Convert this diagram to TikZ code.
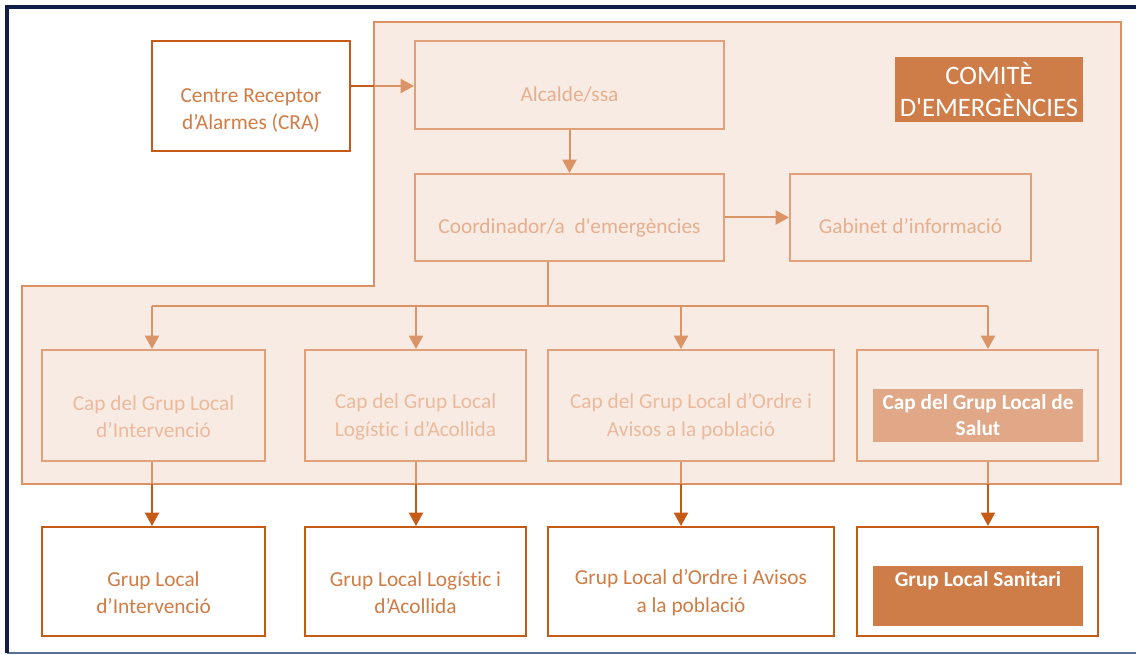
\documentclass[tikz,border=0pt]{standalone}
\usepackage{fontspec}
\setmainfont{Carlito}[Ligatures=NoCommon]
\usetikzlibrary{arrows.meta,calc}
\definecolor{navy}{HTML}{0F1F4A}
\definecolor{framebot}{HTML}{5B6F92}
\definecolor{commfill}{HTML}{F8EBE3}
\definecolor{commline}{HTML}{DA9163}
\definecolor{lline}{HTML}{E0A07A}
\definecolor{larrow}{HTML}{DA9466}
\definecolor{ltext}{HTML}{E6AF8E}
\definecolor{captext}{HTML}{EBBA9C}
\definecolor{dline}{HTML}{C65A17}
\definecolor{dtext}{HTML}{D07C45}
\definecolor{comfill}{HTML}{CF7D48}
\definecolor{salutfill}{HTML}{E0A886}
\begin{document}
\begin{tikzpicture}[x=0.75pt,y=-0.75pt,
  lbox/.style={draw=lline,line width=1.5pt,fill=commfill,inner sep=0pt},
  dbox/.style={draw=dline,line width=1.5pt,fill=white,inner sep=0pt},
  txt/.style={align=center,font=\fontsize{16}{20.5}\selectfont,inner sep=0pt},
  lt/.style={txt,text=ltext},
  ct/.style={txt,text=captext},
  dt/.style={txt,text=dtext},
  larr/.style={draw=larrow,line width=1.5pt,-{Triangle[length=10pt,width=10.5pt]}},
  lln/.style={draw=larrow,line width=1.5pt},
  darr/.style={draw=dline,line width=1.5pt,-{Triangle[length=10pt,width=10.5pt]}},
  dln/.style={draw=dline,line width=1.5pt},
  capw/.style={minimum height=83.25pt},
  grpw/.style={minimum height=81.75pt}]
\useasboundingbox (0,0) rectangle (1136,655);
% frame
\draw[framebot,line width=1.2pt] (7,653) -- (1136,653);
\draw[navy,line width=3pt] (7,653) -- (7,7) -- (1136,7);
% committee area
\draw[commline,fill=commfill,line width=1.5pt] (374,22) -- (1121,22) -- (1121,484) -- (22,484) -- (22,286) -- (374,286) -- cycle;
% top boxes
\node[dbox,minimum width=148.5pt,minimum height=82.5pt] (cra) at (251,96) {};
\node[dt] (crat) at ([yshift=-11pt]cra.center) {Centre Receptor\\d’Alarmes (CRA)};
\node[lbox,minimum width=231.75pt,minimum height=66pt] (alc) at (569.5,85) {};
\node[lt] (alct) at ([yshift=-7.5pt]alc.center) {Alcalde/ssa};
\node[fill=comfill,minimum width=141pt,minimum height=48.75pt,inner sep=0pt] (com) at (989,89.5) {};
\node[txt,text=white,font=\fontsize{20}{24}\selectfont] (comt) at (com.center) {COMITÈ\\D\textquotesingle EMERGÈNCIES};
\node[lbox,minimum width=231.75pt,minimum height=65.25pt] (coo) at (569.5,217.5) {};
\node[lt] (coot) at ([yshift=-8pt]coo.center) {Coordinador/a\ \ d\textquotesingle emergències};
\node[lbox,minimum width=180.75pt,minimum height=65.25pt] (gab) at (910.5,217.5) {};
\node[lt] (gabt) at ([yshift=-6.5pt]gab.center) {Gabinet d’informació};
% cap boxes
\node[lbox,capw,minimum width=167.25pt] (cap1) at (153.5,405.5) {};
\node[lbox,capw,minimum width=165.75pt] (cap2) at (415.5,405.5) {};
\node[lbox,capw,minimum width=214.5pt] (cap3) at (691,405.5) {};
\node[lbox,capw,minimum width=180.75pt] (cap4) at (977.5,405.5) {};
\node[ct] (cap1t) at ([yshift=-8.5pt]cap1.center) {Cap del Grup Local\\d’Intervenció};
\node[ct] (cap2t) at ([yshift=-8.5pt]cap2.center) {Cap del Grup Local\\Logístic i d’Acollida};
\node[ct] (cap3t) at ([yshift=-8.5pt]cap3.center) {Cap del Grup Local d’Ordre i\\Avisos a la població};
\node[fill=salutfill,minimum width=157.5pt,minimum height=39.75pt,inner sep=0pt] (sal) at (978,415.5) {};
\node[txt,text=white,font=\bfseries\fontsize{16}{19.5}\selectfont] (salt) at (sal.center) {Cap del Grup Local de\\Salut};
% group boxes
\node[dbox,grpw,minimum width=167.25pt] (grp1) at (153.5,581.5) {};
\node[dbox,grpw,minimum width=165.75pt] (grp2) at (415.5,581.5) {};
\node[dbox,grpw,minimum width=214.5pt] (grp3) at (691,581.5) {};
\node[dbox,grpw,minimum width=180.75pt] (grp4) at (977.5,581.5) {};
\node[dt] (grp1t) at ([yshift=-8.5pt]grp1.center) {Grup Local\\d’Intervenció};
\node[dt] (grp2t) at ([yshift=-8.5pt]grp2.center) {Grup Local Logístic i\\d’Acollida};
\node[dt] (grp3t) at ([yshift=-8.5pt]grp3.center) {Grup Local d’Ordre i Avisos\\a la població};
\node[fill=comfill,minimum width=157.5pt,minimum height=45pt,inner sep=0pt] (san) at (978,596) {};
\node[txt,text=white,font=\bfseries\fontsize{16}{19.5}\selectfont] (sant) at (978,581) {Grup Local Sanitari};
% connectors
\coordinate (crab) at (374,86);
\draw[dln] (cra.east |- crab) -- (crab);
\draw[larr] (crab) -- (alc.west |- crab);
\draw[larr] (alc.south) -- (coo.north);
\draw[larr] (coo.east) -- (gab.west);
\coordinate (bus) at (548,306);
\coordinate (x1) at (152,306);
\coordinate (x2) at (416,306);
\coordinate (x3) at (681,306);
\coordinate (x4) at (988,306);
\draw[lln] (coo.south -| bus) -- (bus);
\draw[lln] (x1) -- (x4);
\foreach \i in {1,2,3,4}{
  \draw[larr] (x\i) -- (cap\i.north -| x\i);
  \coordinate (b\i) at ($(x\i)+(0,178)$);
  \draw[lln] (cap\i.south -| x\i) -- (b\i);
  \draw[darr] (b\i) -- (grp\i.north -| x\i);
}
\end{tikzpicture}
\end{document}
